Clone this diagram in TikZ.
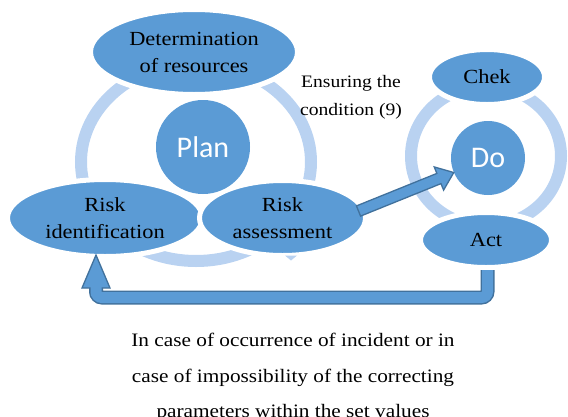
\documentclass[tikz,border=0pt]{standalone}
\usepackage{fontspec}
\setmainfont[FakeStretch=1.12]{Liberation Serif}
\newfontfamily\sansf{Carlito}
\usetikzlibrary{shapes.geometric,calc}
\definecolor{nodeblue}{HTML}{5B9BD5}
\definecolor{ringblue}{HTML}{B9D2F1}
\definecolor{edgeblue}{HTML}{41719C}
\tikzset{
  lbl/.style={ellipse, fill=nodeblue, draw=white, line width=5pt, inner sep=0pt, align=center,
    font=\fontsize{20}{27}\selectfont, text=black},
  hub/.style={circle, fill=nodeblue, inner sep=0pt, font=\sansf\fontsize{30}{36}\selectfont, text=white},
  ring/.style={draw=ringblue, line width=12pt},
  blockarrow/.style={fill=nodeblue, draw=edgeblue, line width=1.3pt, line join=miter},
  note/.style={inner sep=0pt, align=center, font=\fontsize{17.5}{28}\selectfont},
  caption/.style={inner sep=0pt, align=center, font=\fontsize{19}{35.5}\selectfont},
}
\begin{document}
\begin{tikzpicture}[x=1pt,y=-1pt]
\useasboundingbox (0,0) rectangle (568,416);
% rings
\draw[ring] (196,162) ellipse [x radius=115pt, y radius=99pt];
\draw[ring] (486,156) ellipse [x radius=75pt, y radius=70pt];
% Plan cycle
\node[lbl, minimum width=207pt, minimum height=85pt] (det) at (194,52) {Determination\\of resources};
\node[lbl, minimum width=195pt, minimum height=77pt] (ri) at (105,218) {Risk\\identification};
\node[lbl, minimum width=166pt, minimum height=75pt] (ra) at (282.5,218) {Risk\\assessment};
\node[hub, minimum size=94pt] (plan) at (203,147) {Plan};
\fill[ringblue] (285,255.5) -- (297,255.5) -- (291,260.5) -- cycle;
% Do cycle
\node[lbl, minimum width=115pt, minimum height=55pt] (chek) at (487,77) {Chek};
\node[lbl, minimum width=131pt, minimum height=55pt] (act) at (486,240) {Act};
\node[hub, minimum size=74pt] (do) at (488,158) {Do};
% arrow Risk assessment -> Do
\coordinate (datail) at ($(ra.center)+(76,-7)$);
\coordinate (datip) at (do.203);
\coordinate (dabase) at ($(datip)!16pt!(datail)$);
\draw[blockarrow]
  ($(datail)!5.5pt!90:(datip)$) -- ($(dabase)!5.5pt!90:(datip)$) -- ($(dabase)!12.5pt!90:(datip)$)
  -- (datip)
  -- ($(dabase)!12.5pt!-90:(datip)$) -- ($(dabase)!5.5pt!-90:(datip)$) -- ($(datail)!5.5pt!-90:(datip)$)
  -- cycle;
% feedback arrow Act -> Risk identification
\coordinate (fbstart) at ($(act.south)+(1.5,0)$);
\coordinate (fbrow) at (0,297.5);
\coordinate (fbtip) at (96,255);
\coordinate (fbbase) at (96,288);
\draw[draw=edgeblue, line width=14pt, rounded corners=6pt]
  (fbstart) -- (fbstart |- fbrow) -- (fbbase |- fbrow) -- (fbbase);
\draw[blockarrow] ($(fbbase)+(-14,0)$) -- (fbtip) -- ($(fbbase)+(14,0)$) -- cycle;
\draw[draw=nodeblue, line width=11pt, rounded corners=6pt]
  (fbstart) -- (fbstart |- fbrow) -- (fbbase |- fbrow) -- ($(fbbase)+(0,-1.5)$);
% texts
\node[note, anchor=north] (cond) at (351,75) {Ensuring the\\condition (9)};
\node[caption, anchor=north] (cap) at (293,333) {In case of occurrence of incident or in\\case of impossibility of the correcting\\parameters within the set values};
\end{tikzpicture}
\end{document}
